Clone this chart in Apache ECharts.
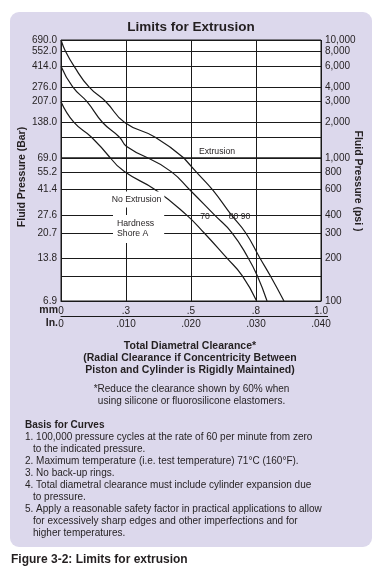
<!DOCTYPE html>
<html>
<head>
<meta charset="utf-8">
<script src="https://cdn.jsdelivr.net/npm/echarts@6/dist/echarts.min.js"></script>
<style>
html,body{margin:0;padding:0;background:#fff;}
#chart{width:380px;height:573px;}
</style>
</head>
<body>
<div id="chart"></div>
<script>
// ---- data ----
// pressure grid lines (psi) with their bar / psi labels
const psiTicks      = [10000, 8000, 6000, 4000, 3000, 2000, 1500, 1000, 800, 600, 400, 300, 200, 150, 100];
const barTickLabels = ['690.0','552.0','414.0','276.0','207.0','138.0','','69.0','55.2','41.4','27.6','20.7','13.8','','6.9'];
const psiTickLabels = ['10,000','8,000','6,000','4,000','3,000','2,000','','1,000','800','600','400','300','200','','100'];
// clearance axis (inches) and matching mm labels
const inchTicks  = [0, 0.010, 0.020, 0.030, 0.040];
const inchLabels = ['0', '.010', '.020', '.030', '.040'];
const mmLabels   = ['0', '.3', '.5', '.8', '1.0'];
// curves: hardness Shore A 70 / 80 / 90  (x = clearance in inches, y = pressure psi)
const psi70 = [3000, 2000, 1500, 1000, 800, 600, 400, 300, 200, 150, 100];
const in70  = [0, 0.0020, 0.0047, 0.0076, 0.0098, 0.0145, 0.0193, 0.0220, 0.0255, 0.0279, 0.0301];
const psi80 = [6000, 4000, 3000, 2000, 1500, 1250, 1000, 800, 600, 400, 300, 200, 150, 100];
const in80  = [0, 0.0018, 0.0040, 0.0064, 0.0090, 0.0101, 0.0134, 0.0170, 0.0198, 0.0236, 0.0263, 0.0288, 0.0302, 0.0317];
const psi90 = [10000, 8000, 6000, 4000, 3000, 2000, 1500, 1000, 800, 600, 400, 300, 200, 150, 100];
const in90  = [0, 0.0007, 0.0020, 0.0043, 0.0069, 0.0098, 0.0145, 0.0189, 0.0208, 0.0233, 0.0262, 0.0284, 0.0306, 0.0322, 0.0343];
const hardness = ['70', '80', '90'];

const notes = [
  '1. 100,000 pressure cycles at the rate of 60 per minute from zero',
  '   to the indicated pressure.',
  '2. Maximum temperature (i.e. test temperature) 71°C (160°F).',
  '3. No back-up rings.',
  '4. Total diametral clearance must include cylinder expansion due',
  '   to pressure.',
  '5. Apply a reasonable safety factor in practical applications to allow',
  '   for excessively sharp edges and other imperfections and for',
  '   higher temperatures.'
];

// ---- chart ----
const FONT = "'Liberation Sans', Arial, Helvetica, sans-serif";
const INK = '#231f20';
const chart = echarts.init(document.getElementById('chart'), null, {renderer: 'canvas'});

function pairs(xs, ys, keep) {
  const out = [];
  for (let i = 0; i < xs.length; i++) if (keep(ys[i])) out.push([xs[i], ys[i]]);
  return out;
}
const curves = [[in70, psi70], [in80, psi80], [in90, psi90]];
const upperKeep = v => v >= 1000;
const lowerKeep = v => v <= 1000;
const lowerTickKeep = v => v < 1000;

function gridLines(keep, labels, pos, visible) {
  const data = [];
  psiTicks.forEach((v, i) => {
    if (!keep(v)) return;
    data.push({yAxis: v, label: {show: labels[i] !== '', formatter: labels[i]}});
  });
  return {
    silent: true, animation: false, symbol: ['none', 'none'],
    emphasis: {disabled: true},
    lineStyle: {color: visible ? '#1a1a1a' : 'rgba(0,0,0,0)', width: 1, type: 'solid'},
    label: {position: pos, distance: 4, color: INK, fontSize: 10, fontFamily: FONT},
    data: data
  };
}

const series = [];
curves.forEach((c, k) => {
  series.push({
    type: 'line', name: hardness[k] + 'u', xAxisIndex: 0, yAxisIndex: 0,
    data: pairs(c[0], c[1], upperKeep), showSymbol: false, smooth: 0.5,
    lineStyle: {color: '#1a1a1a', width: 1.2}, silent: true, animation: false,
    markLine: k === 0 ? gridLines(upperKeep, barTickLabels, 'start', true)
            : k === 1 ? gridLines(upperKeep, psiTickLabels, 'end', false) : undefined
  });
  series.push({
    type: 'line', name: hardness[k] + 'l', xAxisIndex: 1, yAxisIndex: 1,
    data: pairs(c[0], c[1], lowerKeep), showSymbol: false, smooth: 0.5,
    lineStyle: {color: '#1a1a1a', width: 1.2}, silent: true, animation: false,
    markLine: k === 0 ? gridLines(lowerTickKeep, barTickLabels, 'start', true)
            : k === 1 ? gridLines(lowerTickKeep, psiTickLabels, 'end', false) : undefined
  });
});

function xAxisBase(grid) {
  return {
    type: 'value', gridIndex: grid, min: 0, max: 0.04, interval: 0.01,
    axisTick: {show: false},
    splitLine: {show: true, lineStyle: {color: '#1a1a1a', width: 1}}
  };
}
const labelIdx = v => Math.round(v * 100);

function txt(text, x, y, o) {
  o = o || {};
  const st = {
    text: text, x: 0, y: 0, fill: INK,
    font: (o.bold ? 'bold ' : '') + (o.size || 10) + 'px ' + FONT,
    align: o.align || 'center', verticalAlign: 'middle'
  };
  if (o.lh) st.lineHeight = o.lh;
  if (o.bg) { st.backgroundColor = o.bg; st.padding = o.pad; }
  return {type: 'text', x: x, y: y, rotation: o.rot || 0, z: 50, silent: true, style: st};
}

const graphics = [
  {type: 'rect', z: -100, silent: true, shape: {x: 10, y: 12, width: 362, height: 535, r: 9}, style: {fill: '#dcd8ec'}},
  {type: 'line', z: 50, silent: true, shape: {x1: 321, y1: 316.5, x2: 328, y2: 316.5}, style: {stroke: '#1a1a1a', lineWidth: 1}},
  txt('Limits for Extrusion', 191, 27, {bold: true, size: 13.5}),
  txt('Fluid Pressure (Bar)', 22, 177, {bold: true, size: 10.5, rot: Math.PI / 2}),
  txt('Fluid Pressure (psi )', 358, 181, {bold: true, size: 10.5, rot: -Math.PI / 2}),
  txt('mm', 58, 310, {bold: true, size: 10.5, align: 'right'}),
  txt('In.', 58, 323.5, {bold: true, size: 10.5, align: 'right'}),
  txt('Extrusion', 217, 152, {size: 8.7}),
  txt('No Extrusion', 136.5, 199.5, {size: 8.7, bg: '#fff', pad: [4, 3, 3, 3]}),
  txt('Hardness\nShore A', 113, 229, {size: 8.7, align: 'left', lh: 10, bg: '#fff', pad: [4, 10, 4, 4]}),
  txt(hardness[0], 205, 217, {size: 8.7}),
  txt(hardness[1], 233.5, 217, {size: 8.7}),
  txt(hardness[2], 245.5, 217, {size: 8.7}),
  txt('Total Diametral Clearance*', 190, 346.5, {bold: true, size: 10.5}),
  txt('(Radial Clearance if Concentricity Between', 190, 358.5, {bold: true, size: 10.5}),
  txt('Piston and Cylinder is Rigidly Maintained)', 190, 370.5, {bold: true, size: 10.5}),
  txt('*Reduce the clearance shown by 60% when', 191.5, 389, {size: 10}),
  txt('using silicone or fluorosilicone elastomers.', 191.5, 401, {size: 10}),
  txt('Basis for Curves', 25, 425, {bold: true, size: 10, align: 'left'}),
  txt('Figure 3-2: Limits for extrusion', 11, 560, {bold: true, size: 12, align: 'left'})
];
notes.forEach((line, i) => {
  const indent = line.startsWith('   ');
  graphics.push(txt(line.trim(), indent ? 33 : 25, 437 + i * 12, {size: 10, align: 'left'}));
});

const option = {
  backgroundColor: '#ffffff',
  animation: false,
  textStyle: {fontFamily: FONT},
  grid: [
    {left: 61, top: 40, width: 260, height: 118, show: true, backgroundColor: '#fff', borderColor: '#1a1a1a', borderWidth: 1, containLabel: false},
    {left: 61, top: 158, width: 260, height: 143, show: true, backgroundColor: '#fff', borderColor: '#1a1a1a', borderWidth: 1, containLabel: false}
  ],
  xAxis: [
    Object.assign(xAxisBase(0), {axisLabel: {show: false}, axisLine: {show: false}}),
    Object.assign(xAxisBase(1), {
      position: 'bottom',
      axisLine: {show: true, lineStyle: {color: '#1a1a1a', width: 1}},
      axisLabel: {show: true, margin: 5, color: INK, fontSize: 10, fontFamily: FONT,
                  formatter: v => mmLabels[labelIdx(v)]}
    }),
    {
      type: 'value', gridIndex: 1, min: 0, max: 0.04, interval: 0.01, position: 'bottom', offset: 15,
      axisTick: {show: false}, splitLine: {show: false},
      axisLine: {show: true, lineStyle: {color: '#1a1a1a', width: 1}},
      axisLabel: {show: true, margin: 3, color: INK, fontSize: 10, fontFamily: FONT,
                  formatter: v => inchLabels[labelIdx(v)]}
    }
  ],
  yAxis: [
    {type: 'log', logBase: 10, gridIndex: 0, min: 1000, max: 10000,
     axisLine: {show: false}, axisTick: {show: false}, axisLabel: {show: false}, splitLine: {show: false}},
    {type: 'log', logBase: 10, gridIndex: 1, min: 100, max: 1000,
     axisLine: {show: false}, axisTick: {show: false}, axisLabel: {show: false}, splitLine: {show: false}}
  ],
  graphic: {elements: graphics},
  series: series
};
chart.setOption(option);
</script>
</body>
</html>
